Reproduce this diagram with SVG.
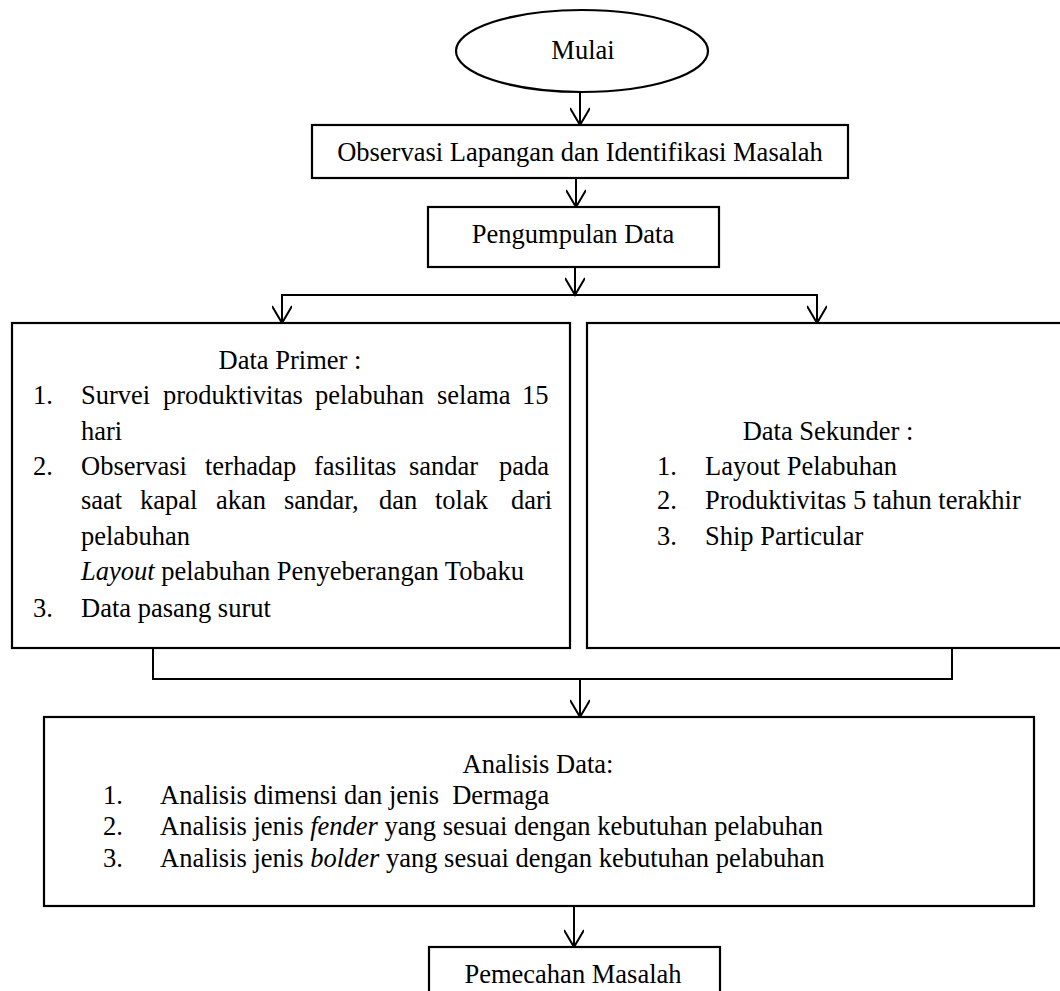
<svg xmlns="http://www.w3.org/2000/svg" width="1060" height="991" viewBox="0 0 1060 991">
<style>
text{font-family:"Liberation Serif","Times New Roman",serif;font-size:26.5px;fill:#000}
.c{text-anchor:middle}
.i{font-style:italic}
.box{fill:#fff;stroke:#000;stroke-width:2.2}
.ln{fill:none;stroke:#000;stroke-width:2}
</style>
<defs>
<marker id="ah" viewBox="0 0 20 20" refX="18" refY="10" markerWidth="20" markerHeight="20" markerUnits="userSpaceOnUse" orient="auto">
<path d="M1,0 L18,10 L1,20" fill="none" stroke="#000" stroke-width="2"/>
</marker>
</defs>
<rect width="1060" height="991" fill="#fff"/>
<g id="connectors">
<line class="ln" x1="580" y1="92" x2="580" y2="125" marker-end="url(#ah)"/>
<line class="ln" x1="576" y1="178" x2="576" y2="207" marker-end="url(#ah)"/>
<line class="ln" x1="575" y1="267" x2="575" y2="295" marker-end="url(#ah)"/>
<polyline class="ln" points="282,323 282,295 817,295 817,323"/>
<line class="ln" x1="282" y1="295" x2="282" y2="323" marker-end="url(#ah)"/>
<line class="ln" x1="817" y1="295" x2="817" y2="323" marker-end="url(#ah)"/>
<polyline class="ln" points="153,648 153,679 952,679 952,648"/>
<line class="ln" x1="580" y1="679" x2="580" y2="717" marker-end="url(#ah)"/>
<line class="ln" x1="574" y1="906" x2="574" y2="947" marker-end="url(#ah)"/>
</g>
<g id="mulai">
<ellipse class="box" cx="582" cy="51" rx="126" ry="41"/>
<text class="c" x="583" y="59">Mulai</text>
</g>
<g id="observasi">
<rect class="box" x="312" y="125" width="536" height="53"/>
<text class="c" x="580" y="161">Observasi Lapangan dan Identifikasi Masalah</text>
</g>
<g id="pengumpulan">
<rect class="box" x="428" y="207" width="291" height="60"/>
<text class="c" x="573" y="243">Pengumpulan Data</text>
</g>
<g id="data-primer">
<rect class="box" x="12" y="323" width="558" height="325"/>
<text class="c" x="290" y="369">Data Primer :</text>
<text x="33" y="404">1.</text>
<text y="404"><tspan x="81">Survei</tspan><tspan x="163">produktivitas</tspan><tspan x="315">pelabuhan</tspan><tspan x="437">selama</tspan><tspan x="522">15</tspan></text>
<text x="81" y="440">hari</text>
<text x="33" y="475">2.</text>
<text y="475"><tspan x="81">Observasi</tspan><tspan x="205">terhadap</tspan><tspan x="314">fasilitas</tspan><tspan x="409">sandar</tspan><tspan x="499">pada</tspan></text>
<text y="509"><tspan x="81">saat</tspan><tspan x="140">kapal</tspan><tspan x="216">akan</tspan><tspan x="284">sandar,</tspan><tspan x="379">dan</tspan><tspan x="435">tolak</tspan><tspan x="511">dari</tspan></text>
<text x="81" y="545">pelabuhan</text>
<text x="81" y="580"><tspan class="i">Layout</tspan> pelabuhan Penyeberangan Tobaku</text>
<text x="33" y="617">3.</text>
<text x="81" y="617">Data pasang surut</text>
</g>
<g id="data-sekunder">
<rect class="box" x="587" y="323" width="483" height="325"/>
<text class="c" x="828" y="440">Data Sekunder :</text>
<text x="657" y="475">1.</text>
<text x="705" y="475">Layout Pelabuhan</text>
<text x="657" y="509">2.</text>
<text x="705" y="509">Produktivitas 5 tahun terakhir</text>
<text x="657" y="545">3.</text>
<text x="705" y="545">Ship Particular</text>
</g>
<g id="analisis">
<rect class="box" x="44" y="717" width="990" height="189"/>
<text class="c" x="538" y="773">Analisis Data:</text>
<text x="103" y="804">1.</text>
<text x="160" y="804" xml:space="preserve">Analisis dimensi dan jenis  Dermaga</text>
<text x="103" y="835">2.</text>
<text x="160" y="835">Analisis jenis <tspan class="i">fender</tspan> yang sesuai dengan kebutuhan pelabuhan</text>
<text x="103" y="867">3.</text>
<text x="160" y="867">Analisis jenis <tspan class="i">bolder</tspan> yang sesuai dengan kebutuhan pelabuhan</text>
</g>
<g id="pemecahan">
<rect class="box" x="429" y="947" width="291" height="60"/>
<text class="c" x="573" y="983">Pemecahan Masalah</text>
</g>
</svg>
